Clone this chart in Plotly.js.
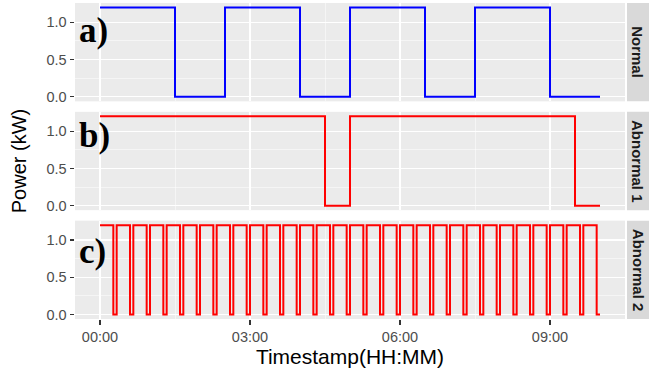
<!DOCTYPE html>
<html>
<head>
<meta charset="utf-8">
<script src="https://cdn.plot.ly/plotly-3.0.1.min.js"></script>
<style>html,body{margin:0;padding:0;background:#fff;}#chart{width:649px;height:373px;}</style>
</head>
<body>
<div id="chart"></div>
<script>
// ---- data (step series: time of each switch, power after switch) ----
const day = "2000-01-01 ";
const normalTimes = ["00:00","01:30","02:30","04:00","05:00","06:30","07:30","09:00","10:00"];
const normalPower = [1.2, 0, 1.2, 0, 1.2, 0, 1.2, 0, 0];

const abnormal1Times = ["00:00","04:30","05:00","09:30","10:00"];
const abnormal1Power = [1.2, 0, 1.2, 0, 0];

const abnormal2Times = [
  "00:00","00:16","00:20","00:36","00:40","00:56",
  "01:00","01:16","01:20","01:36","01:40","01:56",
  "02:00","02:16","02:20","02:36","02:40","02:56",
  "03:00","03:16","03:20","03:36","03:40","03:56",
  "04:00","04:16","04:20","04:36","04:40","04:56",
  "05:00","05:16","05:20","05:36","05:40","05:56",
  "06:00","06:16","06:20","06:36","06:40","06:56",
  "07:00","07:16","07:20","07:36","07:40","07:56",
  "08:00","08:16","08:20","08:36","08:40","08:56",
  "09:00","09:16","09:20","09:36","09:40","09:56",
  "10:00"];
const abnormal2Power = [
  1.2,0,1.2,0,1.2,0,
  1.2,0,1.2,0,1.2,0,
  1.2,0,1.2,0,1.2,0,
  1.2,0,1.2,0,1.2,0,
  1.2,0,1.2,0,1.2,0,
  1.2,0,1.2,0,1.2,0,
  1.2,0,1.2,0,1.2,0,
  1.2,0,1.2,0,1.2,0,
  1.2,0,1.2,0,1.2,0,
  1.2,0,1.2,0,1.2,0,
  0];

const panelNames = ["Normal", "Abnormal 1", "Abnormal 2"];
const panelTags = ["a)", "b)", "c)"];
const xTickLabels = ["00:00","03:00","06:00","09:00"];
const yTickLabels = ["0.0","0.5","1.0"];
const yTickValues = [0, 0.5, 1.0];

// ---- layout helpers ----
const toDate = t => day + t;
const tr = (times, vals, color, xa, ya, name) => ({
  type: "scatter", mode: "lines", name: name,
  x: times.map(toDate), y: vals, xaxis: xa, yaxis: ya,
  line: {color: color, width: 2, shape: "hv"}, showlegend: false, hoverinfo: "skip"
});

const data = [
  tr(normalTimes, normalPower, "#0000ff", "x", "y", panelNames[0]),
  tr(abnormal1Times, abnormal1Power, "#ff0000", "x2", "y2", panelNames[1]),
  tr(abnormal2Times, abnormal2Power, "#ff0000", "x3", "y3", panelNames[2])
];

const font = "Liberation Sans, Arial, sans-serif";
function xAxis(show, anchor) {
  return {
    type: "date", anchor: anchor,
    range: ["1999-12-31 23:30", "2000-01-01 10:30"],
    tickmode: "array",
    tickvals: xTickLabels.map(toDate), ticktext: xTickLabels,
    showgrid: true, gridcolor: "#ffffff", gridwidth: 1.1,
    minor: {tickmode: "array", tickvals: ["01:30","04:30","07:30"].map(toDate), showgrid: true, gridcolor: "#ffffff", gridwidth: 0.5},
    zeroline: false, showline: false,
    ticks: show ? "outside" : "", ticklen: 4.5, tickcolor: "#333333", tickwidth: 1.1,
    showticklabels: show,
    tickfont: {family: font, size: 14.5, color: "#4d4d4d"},
    matches: anchor === "y" ? undefined : "x"
  };
}
function yAxis(domain, anchor) {
  return {
    domain: domain, anchor: anchor,
    range: [-0.06, 1.26],
    tickmode: "array", tickvals: yTickValues, ticktext: yTickLabels,
    showgrid: true, gridcolor: "#ffffff", gridwidth: 1.1,
    minor: {tickmode: "array", tickvals: [0.25, 0.75], showgrid: true, gridcolor: "#ffffff", gridwidth: 0.5},
    zeroline: false, showline: false,
    ticks: "outside", ticklen: 4.5, tickcolor: "#333333", tickwidth: 1.1,
    tickfont: {family: font, size: 14.5, color: "#4d4d4d"}
  };
}

const doms = [[0.6888, 1], [0.3444, 0.6556], [0, 0.3112]];
const layout = {
  width: 649, height: 373,
  margin: {l: 75, r: 24, t: 3, b: 53.5},
  paper_bgcolor: "#ffffff", plot_bgcolor: "#ebebeb",
  xaxis: xAxis(false, "y"),
  xaxis2: xAxis(false, "y2"),
  xaxis3: Object.assign(xAxis(true, "y3"), {
    title: {text: "Timestamp(HH:MM)", font: {family: font, size: 21, color: "#000"}, standoff: 3}
  }),
  yaxis: yAxis(doms[0], "x"),
  yaxis2: Object.assign(yAxis(doms[1], "x2"), {
    title: {text: "Power (kW)", font: {family: font, size: 20, color: "#000"}, standoff: 14}
  }),
  yaxis3: yAxis(doms[2], "x3"),
  shapes: doms.map(d => ({
    type: "rect", xref: "paper", yref: "paper",
    x0: 1 + 2/550, x1: 1 + 26/550, y0: d[0], y1: d[1],
    fillcolor: "#d9d9d9", line: {width: 0}, layer: "below"
  })),
  annotations: [
    ...doms.map((d, i) => ({
      xref: "paper", yref: "paper", x: 1 + 13/550, y: (d[0] + d[1]) / 2,
      text: "<b>" + panelNames[i] + "</b>", textangle: 90, showarrow: false,
      xanchor: "center", yanchor: "middle",
      font: {family: font, size: 15, color: "#1a1a1a"}
    })),
    ...[31, 136, 252].map((py, i) => ({
      xref: "paper", yref: "paper", x: 2/550, y: (319.5 - py) / 316.5,
      text: "<b>" + panelTags[i] + "</b>", showarrow: false,
      xanchor: "left", yanchor: "middle",
      font: {family: "Liberation Serif, Times New Roman, serif", size: 35, color: "#000"}
    }))
  ]
};

Plotly.newPlot("chart", data, layout, {displayModeBar: false, staticPlot: true});
</script>
</body>
</html>
